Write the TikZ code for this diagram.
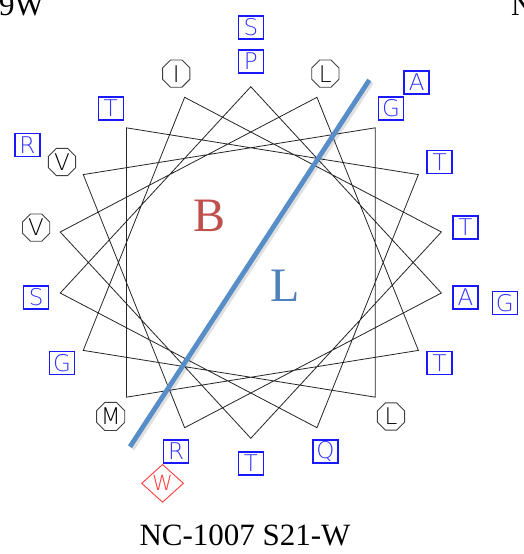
\documentclass[tikz,border=0pt]{standalone}
\usepackage{fontspec}
\setmainfont{Liberation Serif}
\newfontfamily\lblfont{DejaVu Sans ExtraLight}
\usetikzlibrary{shapes.geometric}

\definecolor{polar}{RGB}{25,25,255}
\definecolor{polartext}{RGB}{50,50,255}
\definecolor{aromatic}{RGB}{255,60,60}
\definecolor{axisblue}{RGB}{88,142,200}
\definecolor{sideB}{RGB}{192,80,77}
\definecolor{sideL}{RGB}{79,129,189}

\tikzset{
  wheel/.style={draw=black!85, line width=0.8pt, line join=miter},
  hphil/.style={draw=polar, text=polartext, line width=1.3pt, rectangle,
    minimum width=25pt, minimum height=23pt, inner sep=0pt,
    font=\lblfont\fontsize{23}{23}\selectfont},
  hphob/.style={draw=black!75, text=black, line width=0.9pt,
    regular polygon, regular polygon sides=8, minimum size=29.5pt, inner sep=0pt,
    font=\lblfont\fontsize{23}{23}\selectfont},
  arom/.style={draw=aromatic, text=aromatic, line width=0.9pt, diamond,
    minimum width=42pt, minimum height=38pt, inner sep=0pt,
    font=\lblfont\fontsize{21}{21}\selectfont},
  bigletter/.style={inner sep=0pt, font=\fontsize{48}{48}\selectfont},
  caption/.style={inner sep=0pt, font=\fontsize{31}{31}\selectfont}
}

\begin{document}
\begin{tikzpicture}[x=1pt,y=-1pt]
\clip (0,0) rectangle (524,554);
\fill[white] (0,0) rectangle (524,554);

% wheel vertices: residue i sits at 90 - 100(i-1) degrees
\foreach \i/\a in {1/90,2/-10,3/-110,4/150,5/50,6/-50,7/-150,8/110,9/10,
                   10/-90,11/170,12/70,13/-30,14/-130,15/130,16/30,17/-70,18/190}
  \coordinate (v\i) at ({250.8+193.5*cos(\a)},{262.5-175.8*sin(\a)});

\draw[wheel] (v1) -- (v2) -- (v3) -- (v4) -- (v5) -- (v6) -- (v7) -- (v8) -- (v9)
  -- (v10) -- (v11) -- (v12) -- (v13) -- (v14) -- (v15) -- (v16) -- (v17) -- (v18) -- cycle;

% hydrophobic moment axis
\coordinate (axtop) at (369.3,80);
\coordinate (axbot) at (130,446.7);
\draw[line width=6pt, black, opacity=0.12] ([shift={(1.8,1.8)}]axtop) -- ([shift={(1.8,1.8)}]axbot);
\draw[line width=4.8pt, axisblue] (axtop) -- (axbot);

% residues of the first turn set (inner ring)
\foreach \i/\a/\t/\s in {1/90/P/hphil, 2/-10/A/hphil, 3/-110/R/hphil, 4/150/V/hphob,
    5/50/G/hphil, 6/-50/L/hphob, 7/-150/G/hphil, 8/110/I/hphob, 9/10/T/hphil,
    10/-90/T/hphil, 11/170/V/hphob, 12/70/L/hphob, 13/-30/T/hphil, 14/-130/M/hphob,
    15/130/T/hphil, 16/30/T/hphil, 17/-70/Q/hphil, 18/190/S/hphil}
  \node[\s] (r\i) at ({250.8+218*cos(\a)},{262.5-201*sin(\a)}) {\t};

% residues 19-23 (outer ring)
\foreach \i/\a/\t/\s in {19/90/S/hphil, 20/-10/G/hphil, 21/-110/W/arom,
    22/150/R/hphil, 23/50/A/hphil}
  \node[\s] (r\i) at ({250.8+258*cos(\a)},{262.5-235*sin(\a)}) {\t};

% faces of the helix
\node[bigletter, text=sideB] (faceB) at (210,216) {B};
\node[bigletter, text=sideL] (faceL) at (285,286) {L};

% captions
\node[caption, anchor=base] (title) at (245,545.5) {NC-1007 S21-W};
\node[caption, anchor=base east] (prevtitle) at (44,15) {9W};
\node[caption, anchor=base west] (nexttitle) at (511,15) {N};
\end{tikzpicture}
\end{document}
